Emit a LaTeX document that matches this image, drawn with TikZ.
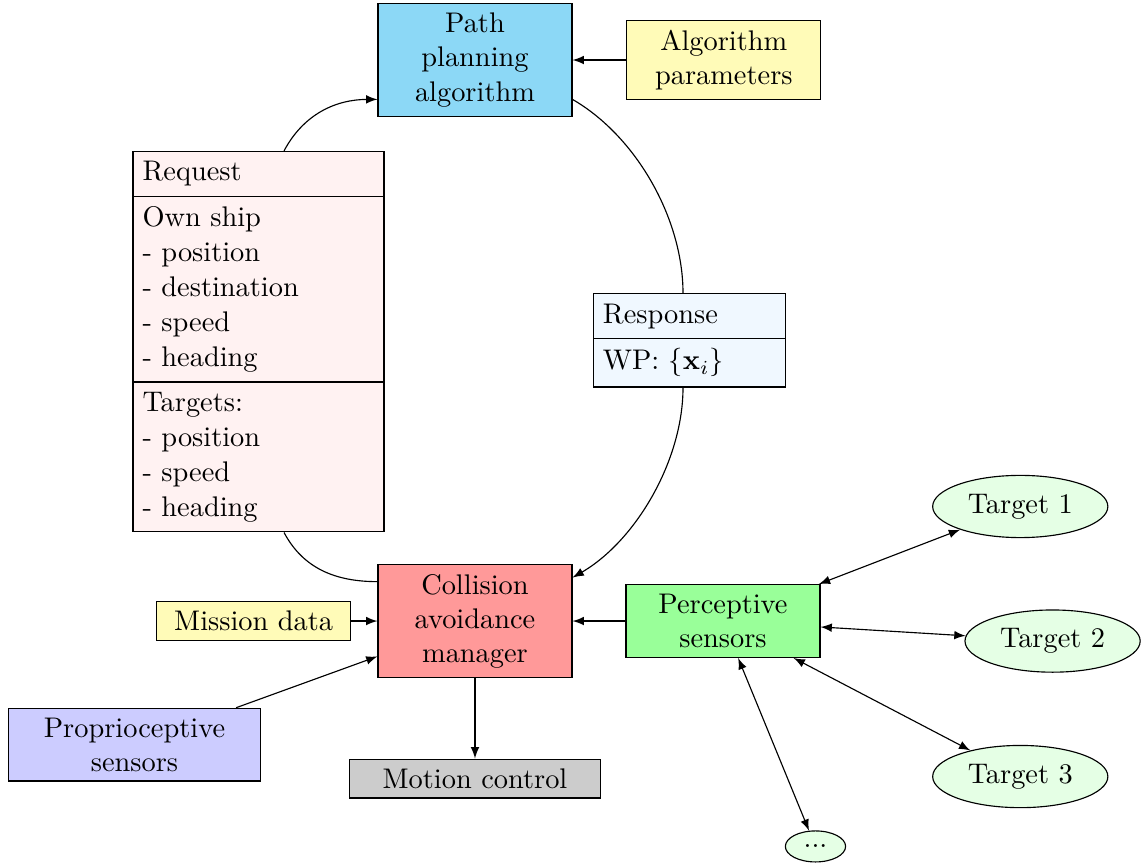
\documentclass[tikz,border=0pt]{standalone}
\usetikzlibrary{shapes.multipart,shapes.geometric}
\definecolor{ppblue}{RGB}{140,216,246}
\definecolor{respblue}{RGB}{240,248,255}
\newcommand{\CAdots}{...}
\tikzset{CAbox/.style={draw,fill=#1,align=center,minimum width=2.4cm},
         CAwbox/.style={draw,fill=#1,align=center,minimum width=3.11cm},
         CAtgt/.style={ellipse,draw,fill=green!10},
         CAsplit/.style={rectangle split,rectangle split parts=#1,draw,align=left,
                         font=\fontsize{10}{12.3}\selectfont}}

\begin{document}
\begin{tikzpicture}[>=latex]
    \useasboundingbox (-5.88,-3.033) rectangle (8.257,7.688);
    \node[CAbox=red!40] (cam) at (0,0) {Collision\\avoidance\\manager};
    \node[CAbox=ppblue] (pp) at (0,6.945) {Path\\planning\\algorithm};
    \node[CAbox=yellow!28] (ap) at (3.08,6.945) {Algorithm\\parameters};
    \node[CAbox=green!40] (perc) at (3.07,0) {Perceptive\\sensors};
    \node[CAbox=yellow!28] (mis) at (-2.74,0) {Mission data};
    \node[CAwbox=blue!20] (prop) at (-4.215,-1.53) {Proprioceptive\\sensors};
    \node[CAwbox=gray!40] (mot) at (0,-1.95) {Motion control};
    \node[CAsplit=3,fill=red!5,text width=81.7pt,anchor=north] (req) at (-2.68,5.82)
      {Request \nodepart{two} Own ship\\- position\\- destination\\- speed\\- heading
       \nodepart{three} Targets:\\- position\\- speed\\- heading};
    \node[CAsplit=2,fill=respblue,text width=61pt,anchor=north] (resp) at (2.655,4.06)
      {Response \nodepart{two} WP: $\{\mathbf{x}_i\}$};
    \foreach \n/\x/\y/\l in {t1/6.75/1.418/Target 1,t2/7.15/-0.248/Target 2,
                             t3/6.75/-1.925/Target 3,tx/4.215/-2.79/\CAdots}
      {\node[CAtgt] (\n) at (\x,\y) {\l}; \draw[<->] (perc) -- (\n);}
    % loop round the manager
    \draw[->] ([xshift=0.316cm]req.north) to[out=62,in=180] (pp.202);
    \draw (pp.-22) to[out=-30,in=90,looseness=0.85] ([xshift=-0.08cm]resp.north);
    \draw[->] ([xshift=-0.08cm]resp.south) to[out=-90,in=30,looseness=0.85] (cam.24);
    \draw ([xshift=0.316cm]req.south) to[out=-62,in=180] (cam.158);
    \draw[->] (ap) -- (pp);
    \draw[->] (mis) -- (cam); \draw[->] (prop) -- (cam);
    \draw[->] (perc) -- (cam); \draw[->] (cam) -- (mot);
\end{tikzpicture}
\end{document}
